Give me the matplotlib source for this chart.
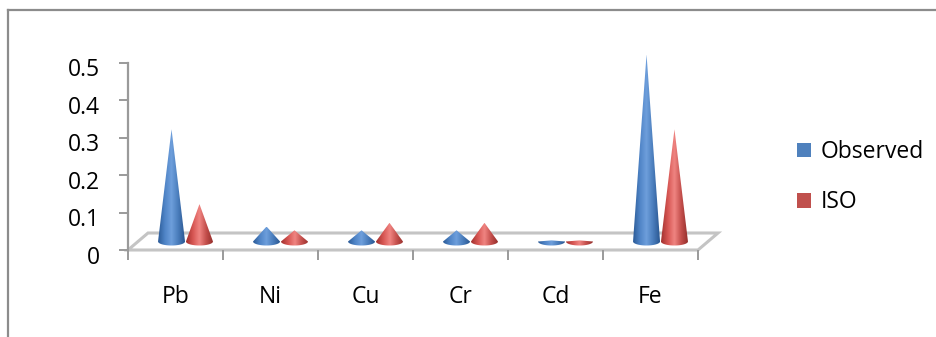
import numpy as np
import matplotlib
matplotlib.use("Agg")
import matplotlib.pyplot as plt
from matplotlib.patches import Polygon, Patch
from matplotlib.lines import Line2D
from matplotlib.colors import LinearSegmentedColormap
from matplotlib.transforms import ScaledTranslation

# data
elements = ["Pb", "Ni", "Cu", "Cr", "Cd", "Fe"]
observed = [0.3, 0.04, 0.03, 0.03, 0.003, 0.5]
iso = [0.1, 0.03, 0.05, 0.05, 0.003, 0.3]
series_names = ["Observed", "ISO"]
yticks = [0, 0.1, 0.2, 0.3, 0.4, 0.5]

plt.rcParams["font.family"] = ["Open Sans", "DejaVu Sans"]
FS = 16.5

W, H = 936, 337
fig = plt.figure(figsize=(W / 100, H / 100), dpi=100)

# axes placed in pixels: y=0 at 250px from top, 0.1 per 37.4px, one category 95px
x0_px, y0_px = 128, 250
cat_px, unit_px = 95.0, 374.0
xmin, xmax = -0.5, 5.5 + 22 / cat_px
ymin, ymax = 0, 0.55
ax = fig.add_axes([x0_px / W, (H - y0_px) / H,
                   (xmax - xmin) * cat_px / W, (ymax - ymin) * unit_px / H])
ax.set_facecolor("none")

# 3D-ish floor
ddx, ddy = 20 / cat_px, 17 / unit_px
floor = Polygon([(-0.5, 0), (5.5, 0), (5.5 + ddx, ddy), (-0.5 + ddx, ddy)],
                closed=True, facecolor="white", edgecolor="#c4c4c4", lw=2.2,
                zorder=1, clip_on=False)
ax.add_patch(floor)

blue_cmap = LinearSegmentedColormap.from_list(
    "b", ["#2c5b98", "#4f84c6", "#6e9fdc", "#4a7dbc", "#2b5893"])
red_cmap = LinearSegmentedColormap.from_list(
    "r", ["#a3322f", "#d65552", "#f08582", "#c44f4c", "#96302d"])
grad = np.linspace(0, 1, 64).reshape(1, -1)

half_w = 13.5 / cat_px
ell = 4 / unit_px
base_y = ddy / 2
offsets = [-0.147 + ddx / 2, 0.147 + ddx / 2]


def cone(cx, h, cmap):
    t = np.linspace(0, np.pi, 30)
    arc = [(cx + half_w * np.cos(a), base_y - ell * np.sin(a)) for a in t]
    pts = [(cx - half_w, base_y), (cx, base_y + h), (cx + half_w, base_y)] + arc
    poly = Polygon(pts, closed=True, facecolor="none", edgecolor="none",
                   clip_on=False)
    ax.add_patch(poly)
    im = ax.imshow(grad, cmap=cmap, aspect="auto", interpolation="bilinear",
                   extent=[cx - half_w, cx + half_w, base_y - ell, base_y + h],
                   zorder=3)
    im.set_clip_path(poly)


for i in range(len(elements)):
    cone(i + offsets[0], observed[i], blue_cmap)
    cone(i + offsets[1], iso[i], red_cmap)

ax.set_xlim(xmin, xmax)
ax.set_ylim(ymin, ymax)

for s in ["top", "right", "bottom"]:
    ax.spines[s].set_visible(False)
ax.spines["left"].set_bounds(0, 0.5)
ax.spines["left"].set_color("#9a9a9a")
ax.spines["left"].set_linewidth(1.6)

ax.set_yticks(yticks)
ax.set_yticklabels([f"{v:g}" for v in yticks])
ax.tick_params(axis="y", length=6.5, width=1.4, color="#9a9a9a",
               labelsize=FS, pad=14)

ax.set_xticks(range(len(elements)))
ax.set_xticklabels(elements)
ax.set_xticks(np.arange(-0.5, 6, 1), minor=True)
ax.tick_params(axis="x", which="major", length=0, labelsize=FS, pad=25)
ax.tick_params(axis="x", which="minor", length=7, width=1.4, color="#9a9a9a")

shift = ScaledTranslation(0, -4.5 / 100, fig.dpi_scale_trans)
for lab in ax.get_yticklabels():
    lab.set_transform(lab.get_transform() + shift)

# outer frame (top and left edges only visible)
fig.add_artist(Line2D([8 / W, 1], [1 - 10 / H, 1 - 10 / H], color="#8c8c8c", lw=1.6))
fig.add_artist(Line2D([8 / W, 8 / W], [0, 1 - 10 / H], color="#8c8c8c", lw=1.6))

handles = [Patch(facecolor="#4f81bd", edgecolor="none"),
           Patch(facecolor="#c0504d", edgecolor="none")]
fig.legend(handles, series_names, loc="upper left",
           bbox_to_anchor=(797 / W, 1 - 140 / H), frameon=False, fontsize=FS,
           handlelength=0.62, handleheight=0.62, handletextpad=0.42,
           labelspacing=1.15, borderpad=0, borderaxespad=0)

fig.savefig("out.png", dpi=100)
